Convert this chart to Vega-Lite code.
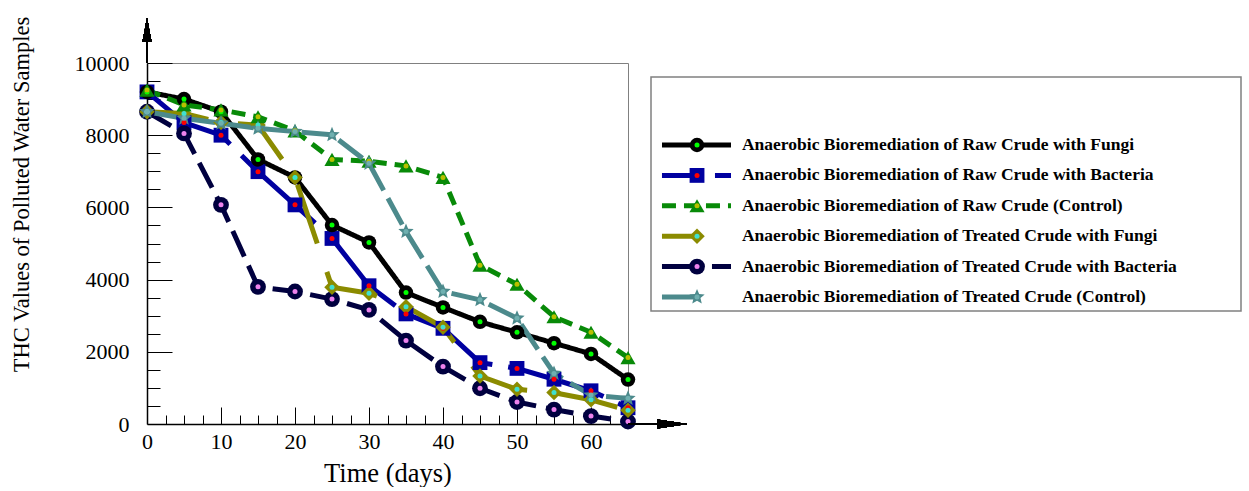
{
  "$schema": "https://vega.github.io/schema/vega-lite/v6.json",
  "background": "white",
  "autosize": {"type": "pad"},
  "padding": {"left": 10, "top": 15, "right": 0, "bottom": 0},
  "config": {"view": {"stroke": "#808080", "strokeWidth": 1}, "font": "Liberation Serif", "axis": {"labelFont": "Liberation Serif", "titleFont": "Liberation Serif"}},
  "width": 481,
  "height": 361,
  "datasets": {
    "thc": [
      {"series": "Anaerobic Bioremediation of Raw Crude with Bacteria", "day": 0, "thc": 9200},
      {"series": "Anaerobic Bioremediation of Raw Crude with Bacteria", "day": 5, "thc": 8350},
      {"series": "Anaerobic Bioremediation of Raw Crude with Bacteria", "day": 10, "thc": 8000},
      {"series": "Anaerobic Bioremediation of Raw Crude with Bacteria", "day": 15, "thc": 6990},
      {"series": "Anaerobic Bioremediation of Raw Crude with Bacteria", "day": 20, "thc": 6070},
      {"series": "Anaerobic Bioremediation of Raw Crude with Bacteria", "day": 25, "thc": 5140},
      {"series": "Anaerobic Bioremediation of Raw Crude with Bacteria", "day": 30, "thc": 3830},
      {"series": "Anaerobic Bioremediation of Raw Crude with Bacteria", "day": 35, "thc": 3050},
      {"series": "Anaerobic Bioremediation of Raw Crude with Bacteria", "day": 40, "thc": 2650},
      {"series": "Anaerobic Bioremediation of Raw Crude with Bacteria", "day": 45, "thc": 1700},
      {"series": "Anaerobic Bioremediation of Raw Crude with Bacteria", "day": 50, "thc": 1540},
      {"series": "Anaerobic Bioremediation of Raw Crude with Bacteria", "day": 55, "thc": 1240},
      {"series": "Anaerobic Bioremediation of Raw Crude with Bacteria", "day": 60, "thc": 920},
      {"series": "Anaerobic Bioremediation of Raw Crude with Bacteria", "day": 65, "thc": 450},
      {"series": "Anaerobic Bioremediation of Treated Crude with Bacteria", "day": 0, "thc": 8650},
      {"series": "Anaerobic Bioremediation of Treated Crude with Bacteria", "day": 5, "thc": 8050},
      {"series": "Anaerobic Bioremediation of Treated Crude with Bacteria", "day": 10, "thc": 6070},
      {"series": "Anaerobic Bioremediation of Treated Crude with Bacteria", "day": 15, "thc": 3800},
      {"series": "Anaerobic Bioremediation of Treated Crude with Bacteria", "day": 20, "thc": 3670},
      {"series": "Anaerobic Bioremediation of Treated Crude with Bacteria", "day": 25, "thc": 3460},
      {"series": "Anaerobic Bioremediation of Treated Crude with Bacteria", "day": 30, "thc": 3160},
      {"series": "Anaerobic Bioremediation of Treated Crude with Bacteria", "day": 35, "thc": 2310},
      {"series": "Anaerobic Bioremediation of Treated Crude with Bacteria", "day": 40, "thc": 1590},
      {"series": "Anaerobic Bioremediation of Treated Crude with Bacteria", "day": 45, "thc": 990},
      {"series": "Anaerobic Bioremediation of Treated Crude with Bacteria", "day": 50, "thc": 610},
      {"series": "Anaerobic Bioremediation of Treated Crude with Bacteria", "day": 55, "thc": 400},
      {"series": "Anaerobic Bioremediation of Treated Crude with Bacteria", "day": 60, "thc": 220},
      {"series": "Anaerobic Bioremediation of Treated Crude with Bacteria", "day": 65, "thc": 70},
      {"series": "Anaerobic Bioremediation of Raw Crude with Fungi", "day": 0, "thc": 9200},
      {"series": "Anaerobic Bioremediation of Raw Crude with Fungi", "day": 5, "thc": 9000},
      {"series": "Anaerobic Bioremediation of Raw Crude with Fungi", "day": 10, "thc": 8650},
      {"series": "Anaerobic Bioremediation of Raw Crude with Fungi", "day": 15, "thc": 7330},
      {"series": "Anaerobic Bioremediation of Raw Crude with Fungi", "day": 20, "thc": 6830},
      {"series": "Anaerobic Bioremediation of Raw Crude with Fungi", "day": 25, "thc": 5510},
      {"series": "Anaerobic Bioremediation of Raw Crude with Fungi", "day": 30, "thc": 5030},
      {"series": "Anaerobic Bioremediation of Raw Crude with Fungi", "day": 35, "thc": 3640},
      {"series": "Anaerobic Bioremediation of Raw Crude with Fungi", "day": 40, "thc": 3230},
      {"series": "Anaerobic Bioremediation of Raw Crude with Fungi", "day": 45, "thc": 2830},
      {"series": "Anaerobic Bioremediation of Raw Crude with Fungi", "day": 50, "thc": 2540},
      {"series": "Anaerobic Bioremediation of Raw Crude with Fungi", "day": 55, "thc": 2240},
      {"series": "Anaerobic Bioremediation of Raw Crude with Fungi", "day": 60, "thc": 1940},
      {"series": "Anaerobic Bioremediation of Raw Crude with Fungi", "day": 65, "thc": 1230},
      {"series": "Anaerobic Bioremediation of Treated Crude with Fungi", "day": 0, "thc": 8650},
      {"series": "Anaerobic Bioremediation of Treated Crude with Fungi", "day": 5, "thc": 8600},
      {"series": "Anaerobic Bioremediation of Treated Crude with Fungi", "day": 10, "thc": 8350},
      {"series": "Anaerobic Bioremediation of Treated Crude with Fungi", "day": 15, "thc": 8280},
      {"series": "Anaerobic Bioremediation of Treated Crude with Fungi", "day": 20, "thc": 6830},
      {"series": "Anaerobic Bioremediation of Treated Crude with Fungi", "day": 25, "thc": 3790},
      {"series": "Anaerobic Bioremediation of Treated Crude with Fungi", "day": 30, "thc": 3620},
      {"series": "Anaerobic Bioremediation of Treated Crude with Fungi", "day": 35, "thc": 3250},
      {"series": "Anaerobic Bioremediation of Treated Crude with Fungi", "day": 40, "thc": 2680},
      {"series": "Anaerobic Bioremediation of Treated Crude with Fungi", "day": 45, "thc": 1330},
      {"series": "Anaerobic Bioremediation of Treated Crude with Fungi", "day": 50, "thc": 960},
      {"series": "Anaerobic Bioremediation of Treated Crude with Fungi", "day": 55, "thc": 870},
      {"series": "Anaerobic Bioremediation of Treated Crude with Fungi", "day": 60, "thc": 670},
      {"series": "Anaerobic Bioremediation of Treated Crude with Fungi", "day": 65, "thc": 380},
      {"series": "Anaerobic Bioremediation of Raw Crude (Control)", "day": 0, "thc": 9250},
      {"series": "Anaerobic Bioremediation of Raw Crude (Control)", "day": 5, "thc": 8840},
      {"series": "Anaerobic Bioremediation of Raw Crude (Control)", "day": 10, "thc": 8700},
      {"series": "Anaerobic Bioremediation of Raw Crude (Control)", "day": 15, "thc": 8510},
      {"series": "Anaerobic Bioremediation of Raw Crude (Control)", "day": 20, "thc": 8120},
      {"series": "Anaerobic Bioremediation of Raw Crude (Control)", "day": 25, "thc": 7330},
      {"series": "Anaerobic Bioremediation of Raw Crude (Control)", "day": 30, "thc": 7280},
      {"series": "Anaerobic Bioremediation of Raw Crude (Control)", "day": 35, "thc": 7150},
      {"series": "Anaerobic Bioremediation of Raw Crude (Control)", "day": 40, "thc": 6830},
      {"series": "Anaerobic Bioremediation of Raw Crude (Control)", "day": 45, "thc": 4400},
      {"series": "Anaerobic Bioremediation of Raw Crude (Control)", "day": 50, "thc": 3870},
      {"series": "Anaerobic Bioremediation of Raw Crude (Control)", "day": 55, "thc": 2970},
      {"series": "Anaerobic Bioremediation of Raw Crude (Control)", "day": 60, "thc": 2540},
      {"series": "Anaerobic Bioremediation of Raw Crude (Control)", "day": 65, "thc": 1840},
      {"series": "Anaerobic Bioremediation of Treated Crude (Control)", "day": 0, "thc": 8650},
      {"series": "Anaerobic Bioremediation of Treated Crude (Control)", "day": 5, "thc": 8470},
      {"series": "Anaerobic Bioremediation of Treated Crude (Control)", "day": 10, "thc": 8330},
      {"series": "Anaerobic Bioremediation of Treated Crude (Control)", "day": 15, "thc": 8190},
      {"series": "Anaerobic Bioremediation of Treated Crude (Control)", "day": 20, "thc": 8100},
      {"series": "Anaerobic Bioremediation of Treated Crude (Control)", "day": 25, "thc": 8010},
      {"series": "Anaerobic Bioremediation of Treated Crude (Control)", "day": 30, "thc": 7220},
      {"series": "Anaerobic Bioremediation of Treated Crude (Control)", "day": 35, "thc": 5330},
      {"series": "Anaerobic Bioremediation of Treated Crude (Control)", "day": 40, "thc": 3670},
      {"series": "Anaerobic Bioremediation of Treated Crude (Control)", "day": 45, "thc": 3440},
      {"series": "Anaerobic Bioremediation of Treated Crude (Control)", "day": 50, "thc": 2930},
      {"series": "Anaerobic Bioremediation of Treated Crude (Control)", "day": 55, "thc": 1400},
      {"series": "Anaerobic Bioremediation of Treated Crude (Control)", "day": 60, "thc": 800},
      {"series": "Anaerobic Bioremediation of Treated Crude (Control)", "day": 65, "thc": 710}
    ]
  },
  "data": {"name": "thc"},
  "resolve": {
    "scale": {"x": "independent", "y": "independent", "strokeDash": "independent"},
    "axis": {"x": "independent", "y": "independent"}
  },
  "layer": [
    {
      "mark": {"type": "line", "strokeWidth": 5, "strokeJoin": "round"},
      "encoding": {
        "x": {"field": "day", "type": "quantitative", "scale": {"domain": [0, 65], "nice": false},
          "axis": {"orient": "bottom", "values": [0, 10, 20, 30, 40, 50, 60], "format": "d", "ticks": false, "tickSize": 0, "labelPadding": 7, "labelFont": "Liberation Serif", "labelFontSize": 22, "labelColor": "black", "labelFlush": false, "labelOverlap": false, "domainColor": "black", "domainWidth": 1.5, "grid": false, "title": "Time (days)", "titleFont": "Liberation Serif", "titleFontSize": 26.5, "titleFontWeight": "normal", "titleColor": "black", "titlePadding": 8}},
        "y": {"field": "thc", "type": "quantitative", "scale": {"domain": [0, 10000], "nice": false},
          "axis": {"orient": "left", "values": [0, 2000, 4000, 6000, 8000, 10000], "format": "d", "ticks": false, "tickSize": 0, "labelPadding": 18, "labelFont": "Liberation Serif", "labelFontSize": 22, "labelColor": "black", "labelFlush": false, "labelOverlap": false, "domainColor": "black", "domainWidth": 1.5, "grid": false, "title": "THC Values of Polluted Water Samples", "titleFont": "Liberation Serif", "titleFontSize": 22.5, "titleFontWeight": "normal", "titleColor": "black", "titlePadding": 41, "titleY": 131}},
        "color": {"field": "series", "type": "nominal", "legend": null,
          "scale": {"domain": ["Anaerobic Bioremediation of Raw Crude with Fungi", "Anaerobic Bioremediation of Raw Crude with Bacteria", "Anaerobic Bioremediation of Raw Crude (Control)", "Anaerobic Bioremediation of Treated Crude with Fungi", "Anaerobic Bioremediation of Treated Crude with Bacteria", "Anaerobic Bioremediation of Treated Crude (Control)"],
            "range": ["#000000", "#0000a0", "#088a08", "#8b8b00", "#00003f", "#4c8a8c"]}},
        "strokeDash": {"field": "series", "type": "nominal", "legend": null,
          "scale": {"domain": ["Anaerobic Bioremediation of Raw Crude with Fungi", "Anaerobic Bioremediation of Raw Crude with Bacteria", "Anaerobic Bioremediation of Raw Crude (Control)", "Anaerobic Bioremediation of Treated Crude with Fungi", "Anaerobic Bioremediation of Treated Crude with Bacteria", "Anaerobic Bioremediation of Treated Crude (Control)"],
            "range": [[1, 0], [100, 16], [14, 8], [62, 30], [28, 10], [30, 9]]}}
      }
    },
    {
      "mark": {"type": "point", "filled": true, "opacity": 1, "strokeWidth": 0},
      "encoding": {
        "x": {"field": "day", "type": "quantitative", "scale": {"domain": [0, 65], "nice": false},
          "axis": {"orient": "bottom", "values": [10, 20, 30, 40, 50, 60], "tickSize": -17, "tickColor": "black", "tickWidth": 1, "labels": false, "domain": false, "grid": false, "title": null}},
        "y": {"field": "thc", "type": "quantitative", "scale": {"domain": [0, 10000], "nice": false},
          "axis": {"orient": "left", "values": [2000, 4000, 6000, 8000, 10000], "tickSize": -25, "tickColor": "black", "tickWidth": 1, "labels": false, "domain": false, "grid": false, "title": null}},
        "color": {"field": "series", "type": "nominal", "legend": null},
        "shape": {"field": "series", "type": "nominal", "legend": null,
          "scale": {"domain": ["Anaerobic Bioremediation of Raw Crude with Fungi", "Anaerobic Bioremediation of Raw Crude with Bacteria", "Anaerobic Bioremediation of Raw Crude (Control)", "Anaerobic Bioremediation of Treated Crude with Fungi", "Anaerobic Bioremediation of Treated Crude with Bacteria", "Anaerobic Bioremediation of Treated Crude (Control)"],
            "range": ["circle", "square", "triangle-up", "diamond", "circle", "M0,-1L0.265,-0.364L0.951,-0.309L0.428,0.139L0.588,0.809L0,0.45L-0.588,0.809L-0.428,0.139L-0.951,-0.309L-0.265,-0.364Z"]}},
        "size": {"field": "series", "type": "ordinal", "legend": null,
          "scale": {"domain": ["Anaerobic Bioremediation of Raw Crude with Fungi", "Anaerobic Bioremediation of Raw Crude with Bacteria", "Anaerobic Bioremediation of Raw Crude (Control)", "Anaerobic Bioremediation of Treated Crude with Fungi", "Anaerobic Bioremediation of Treated Crude with Bacteria", "Anaerobic Bioremediation of Treated Crude (Control)"],
            "range": [210, 260, 300, 290, 200, 420]}}
      }
    },
    {
      "mark": {"type": "point", "filled": true, "opacity": 1, "strokeWidth": 0, "shape": "circle", "size": 25},
      "encoding": {
        "x": {"field": "day", "type": "quantitative", "scale": {"domain": [0, 65], "nice": false},
          "axis": {"orient": "bottom", "values": [2.5, 5, 7.5, 12.5, 15, 17.5, 22.5, 25, 27.5, 32.5, 35, 37.5, 42.5, 45, 47.5, 52.5, 55, 57.5, 62.5], "tickSize": -9, "tickColor": "black", "tickWidth": 1, "labels": false, "domain": false, "grid": false, "title": null}},
        "y": {"field": "thc", "type": "quantitative", "scale": {"domain": [0, 10000], "nice": false},
          "axis": {"orient": "left", "values": [500, 1000, 1500, 2500, 3000, 3500, 4500, 5000, 5500, 6500, 7000, 7500, 8500, 9000, 9500], "tickSize": -13, "tickColor": "black", "tickWidth": 1, "labels": false, "domain": false, "grid": false, "title": null}},
        "fill": {"field": "series", "type": "nominal", "legend": null,
          "scale": {"domain": ["Anaerobic Bioremediation of Raw Crude with Fungi", "Anaerobic Bioremediation of Raw Crude with Bacteria", "Anaerobic Bioremediation of Raw Crude (Control)", "Anaerobic Bioremediation of Treated Crude with Fungi", "Anaerobic Bioremediation of Treated Crude with Bacteria", "Anaerobic Bioremediation of Treated Crude (Control)"],
            "range": ["#00ff00", "#ff0000", "#b8c000", "#40e0d0", "#ee82ee", "#6fb0b0"]}}
      }
    },
    {
      "mark": {"type": "rule", "color": "black", "strokeWidth": 1.5},
      "encoding": {
        "x": {"datum": 0, "type": "quantitative", "scale": {"domain": [0, 65], "nice": false}, "axis": null},
        "y": {"datum": 10000, "type": "quantitative", "scale": {"domain": [0, 10000], "nice": false}, "axis": null},
        "y2": {"datum": 10650}
      }
    },
    {
      "mark": {"type": "point", "filled": true, "opacity": 1, "color": "black", "strokeWidth": 0, "shape": "M0,-1L0.375,1L-0.375,1Z", "size": 576},
      "encoding": {
        "x": {"datum": 0, "type": "quantitative", "scale": {"domain": [0, 65], "nice": false}, "axis": null},
        "y": {"datum": 10914, "type": "quantitative", "scale": {"domain": [0, 10000], "nice": false}, "axis": null}
      }
    },
    {
      "mark": {"type": "rule", "color": "black", "strokeWidth": 1.5},
      "encoding": {
        "x": {"datum": 65, "type": "quantitative", "scale": {"domain": [0, 65], "nice": false}, "axis": null},
        "x2": {"datum": 69},
        "y": {"datum": 0, "type": "quantitative", "scale": {"domain": [0, 10000], "nice": false}, "axis": null}
      }
    },
    {
      "mark": {"type": "point", "filled": true, "opacity": 1, "color": "black", "strokeWidth": 0, "shape": "M1,0L-1,0.3L-1,-0.3Z", "size": 900},
      "encoding": {
        "x": {"datum": 70.95, "type": "quantitative", "scale": {"domain": [0, 65], "nice": false}, "axis": null},
        "y": {"datum": 0, "type": "quantitative", "scale": {"domain": [0, 10000], "nice": false}, "axis": null}
      }
    },
    {
      "data": {"values": [{}]},
      "mark": {"type": "rect", "fill": "white", "stroke": "#808080", "strokeWidth": 1.5},
      "encoding": {
        "x": {"datum": 0, "type": "quantitative", "scale": {"domain": [0, 100], "range": [504, 1094], "nice": false}, "axis": null},
        "x2": {"datum": 100},
        "y": {"datum": 0, "type": "quantitative", "scale": {"domain": [0, 1], "range": [248, 14], "nice": false}, "axis": null},
        "y2": {"datum": 1}
      }
    },
    {
      "transform": [{"filter": "datum.day == 0"}],
      "mark": {"type": "rule", "strokeWidth": 5},
      "encoding": {
        "x": {"datum": 1.86, "type": "quantitative", "scale": {"domain": [0, 100], "range": [504, 1094], "nice": false}, "axis": null},
        "x2": {"datum": 13.56},
        "y": {"field": "series", "type": "nominal", "axis": null,
          "scale": {"type": "point", "padding": 0, "range": [82, 234], "domain": ["Anaerobic Bioremediation of Raw Crude with Fungi", "Anaerobic Bioremediation of Raw Crude with Bacteria", "Anaerobic Bioremediation of Raw Crude (Control)", "Anaerobic Bioremediation of Treated Crude with Fungi", "Anaerobic Bioremediation of Treated Crude with Bacteria", "Anaerobic Bioremediation of Treated Crude (Control)"]}},
        "color": {"field": "series", "type": "nominal", "legend": null},
        "strokeDash": {"field": "series", "type": "nominal", "legend": null,
          "scale": {"domain": ["Anaerobic Bioremediation of Raw Crude with Fungi", "Anaerobic Bioremediation of Raw Crude with Bacteria", "Anaerobic Bioremediation of Raw Crude (Control)", "Anaerobic Bioremediation of Treated Crude with Fungi", "Anaerobic Bioremediation of Treated Crude with Bacteria", "Anaerobic Bioremediation of Treated Crude (Control)"],
            "range": [[1, 0], [40, 13], [14, 8], [36, 40], [40, 10], [35, 40]]}}
      }
    },
    {
      "transform": [{"filter": "datum.day == 0"}],
      "mark": {"type": "point", "filled": true, "opacity": 1, "strokeWidth": 0},
      "encoding": {
        "x": {"datum": 7.8, "type": "quantitative", "scale": {"domain": [0, 100], "range": [504, 1094], "nice": false}, "axis": null},
        "y": {"field": "series", "type": "nominal", "axis": null,
          "scale": {"type": "point", "padding": 0, "range": [82, 234], "domain": ["Anaerobic Bioremediation of Raw Crude with Fungi", "Anaerobic Bioremediation of Raw Crude with Bacteria", "Anaerobic Bioremediation of Raw Crude (Control)", "Anaerobic Bioremediation of Treated Crude with Fungi", "Anaerobic Bioremediation of Treated Crude with Bacteria", "Anaerobic Bioremediation of Treated Crude (Control)"]}},
        "color": {"field": "series", "type": "nominal", "legend": null},
        "shape": {"field": "series", "type": "nominal", "legend": null},
        "size": {"field": "series", "type": "ordinal", "legend": null}
      }
    },
    {
      "transform": [{"filter": "datum.day == 0"}],
      "mark": {"type": "point", "filled": true, "opacity": 1, "strokeWidth": 0, "shape": "circle", "size": 25},
      "encoding": {
        "x": {"datum": 7.8, "type": "quantitative", "scale": {"domain": [0, 100], "range": [504, 1094], "nice": false}, "axis": null},
        "y": {"field": "series", "type": "nominal", "axis": null,
          "scale": {"type": "point", "padding": 0, "range": [82, 234], "domain": ["Anaerobic Bioremediation of Raw Crude with Fungi", "Anaerobic Bioremediation of Raw Crude with Bacteria", "Anaerobic Bioremediation of Raw Crude (Control)", "Anaerobic Bioremediation of Treated Crude with Fungi", "Anaerobic Bioremediation of Treated Crude with Bacteria", "Anaerobic Bioremediation of Treated Crude (Control)"]}},
        "fill": {"field": "series", "type": "nominal", "legend": null}
      }
    },
    {
      "transform": [{"filter": "datum.day == 0"}],
      "mark": {"type": "text", "align": "left", "baseline": "middle", "font": "Liberation Serif", "fontWeight": "bold", "fontSize": 17.5, "color": "black"},
      "encoding": {
        "x": {"datum": 15.42, "type": "quantitative", "scale": {"domain": [0, 100], "range": [504, 1094], "nice": false}, "axis": null},
        "y": {"field": "series", "type": "nominal", "axis": null,
          "scale": {"type": "point", "padding": 0, "range": [82, 234], "domain": ["Anaerobic Bioremediation of Raw Crude with Fungi", "Anaerobic Bioremediation of Raw Crude with Bacteria", "Anaerobic Bioremediation of Raw Crude (Control)", "Anaerobic Bioremediation of Treated Crude with Fungi", "Anaerobic Bioremediation of Treated Crude with Bacteria", "Anaerobic Bioremediation of Treated Crude (Control)"]}},
        "text": {"field": "series", "type": "nominal"}
      }
    }
  ]
}
